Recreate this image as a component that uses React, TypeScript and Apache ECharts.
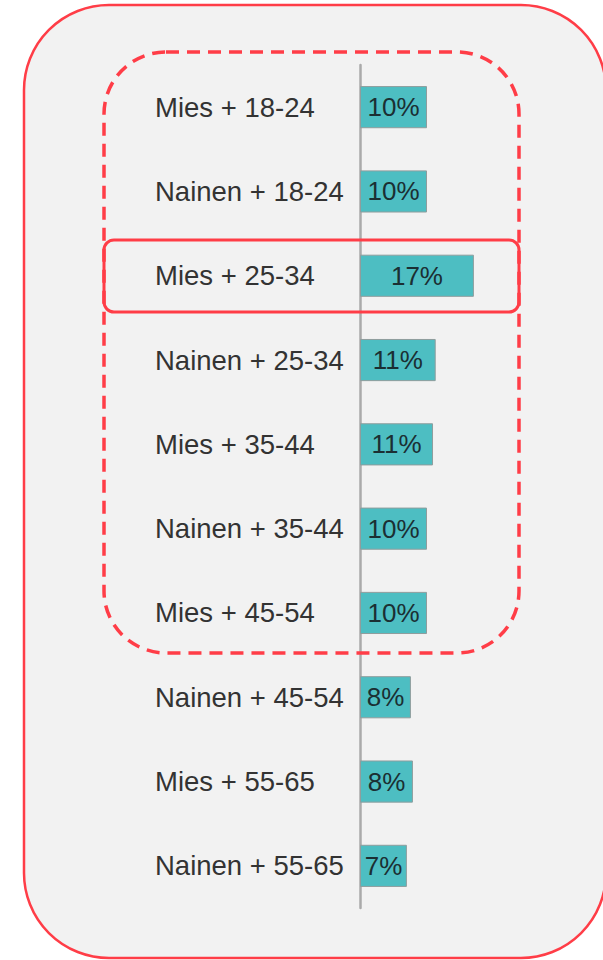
import React, { useEffect, useRef } from "react";
import * as echarts from "echarts";

const categories = [
  "Mies + 18-24",
  "Nainen + 18-24",
  "Mies + 25-34",
  "Nainen + 25-34",
  "Mies + 35-44",
  "Nainen + 35-44",
  "Mies + 45-54",
  "Nainen + 45-54",
  "Mies + 55-65",
  "Nainen + 55-65",
];
const values = [10, 10, 17, 11.3, 10.9, 10, 10, 7.6, 7.9, 7.0];

export default function App() {
  const ref = useRef<HTMLDivElement>(null);
  useEffect(() => {
    document.body.style.margin = "0";
    const chart = echarts.init(ref.current!, null, { renderer: "svg" });
    const red = "#ff3d47";
    chart.setOption({
      animation: false,
      backgroundColor: "#ffffff",
      grid: { left: 360, right: 109, top: 65, bottom: 52, containLabel: false },
      xAxis: {
        type: "value",
        min: 0,
        max: 20,
        show: false,
      },
      yAxis: {
        type: "category",
        data: categories,
        inverse: true,
        axisLine: { show: true, lineStyle: { color: "#aaaaaa", width: 2.5 } },
        axisTick: { show: false },
        axisLabel: {
          fontSize: 27.5,
          color: "#333333",
          fontFamily: "Liberation Sans, Arial, sans-serif",
          margin: 205,
          align: "left",
        },
        splitLine: { show: false },
      },
      series: [
        {
          type: "bar",
          data: values,
          barWidth: "50%",
          itemStyle: { color: "#4dbec2", borderColor: "#8f9d9d", borderWidth: 1 },
          label: {
            show: true,
            position: "inside",
            fontSize: 26,
            color: "#1b2f33",
            fontFamily: "Liberation Sans, Arial, sans-serif",
            formatter: (p: any) => Math.round(p.value) + "%",
          },
          z: 2,
        },
      ],
      graphic: [
        {
          type: "rect",
          z: -10,
          shape: { x: 24, y: 5, width: 582, height: 953, r: 85 },
          style: { fill: "#f2f2f2", stroke: red, lineWidth: 2.5 },
        },
        {
          type: "rect",
          z: 100,
          shape: { x: 104, y: 52, width: 415, height: 601, r: 62 },
          style: { fill: "none", stroke: red, lineWidth: 3.5, lineDash: [13, 8] },
        },
        {
          type: "rect",
          z: 100,
          shape: { x: 104, y: 240, width: 415, height: 72, r: 10 },
          style: { fill: "none", stroke: red, lineWidth: 3 },
        },
      ],
    });
    return () => chart.dispose();
  }, []);
  return (
    <div
      ref={ref}
      style={{ position: "absolute", left: 0, top: 0, width: 603, height: 960 }}
    />
  );
}
